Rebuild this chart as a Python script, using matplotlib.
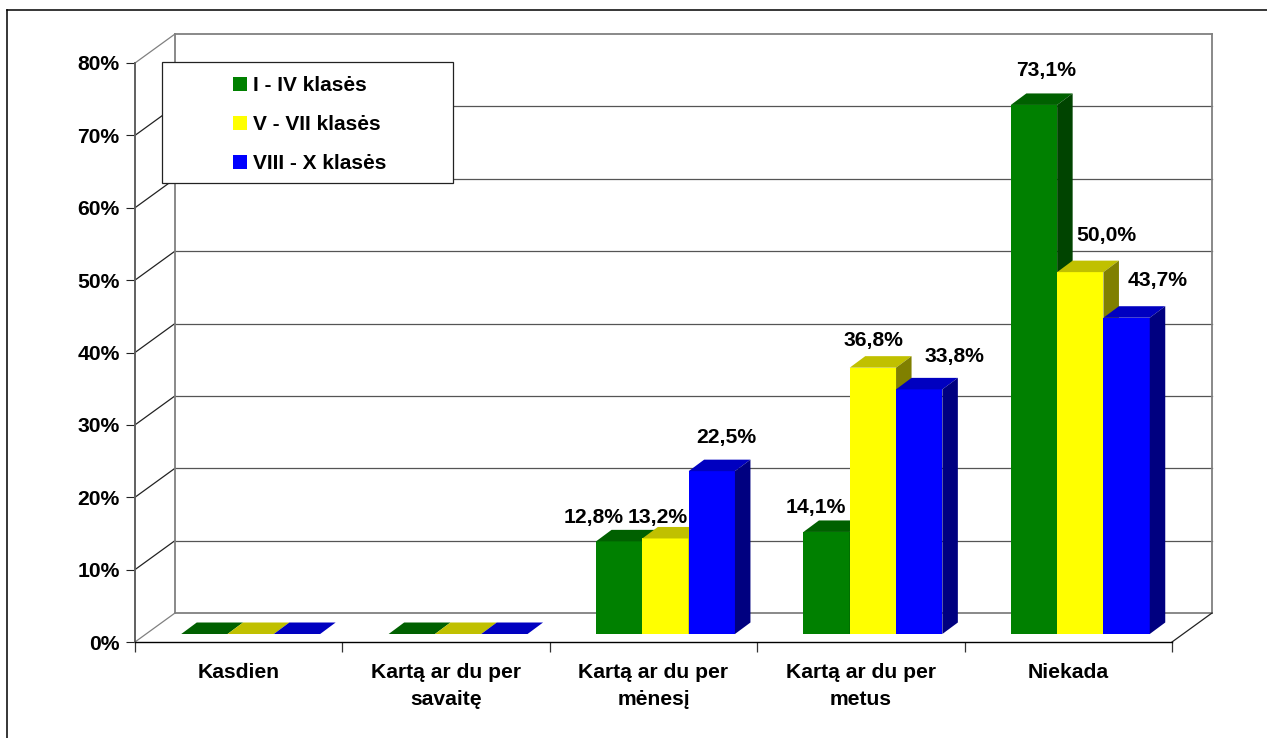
import matplotlib
matplotlib.use("Agg")
import matplotlib.pyplot as plt
from matplotlib.lines import Line2D
from matplotlib.patches import Patch, Polygon, Rectangle

FONT_SIZE = 15.2
plt.rcParams["font.family"] = ["Liberation Sans", "DejaVu Sans"]
plt.rcParams["font.weight"] = "bold"
plt.rcParams["font.size"] = FONT_SIZE

categories = ["Kasdien", "Kartą ar du per\nsavaitę", "Kartą ar du per\nmėnesį",
              "Kartą ar du per\nmetus", "Niekada"]
series_names = ["I - IV klasės", "V - VII klasės", "VIII - X klasės"]
grade_1_4 = [0, 0, 12.8, 14.1, 73.1]
grade_5_7 = [0, 0, 13.2, 36.8, 50.0]
grade_8_10 = [0, 0, 22.5, 33.8, 43.7]
y_ticks = [0, 10, 20, 30, 40, 50, 60, 70, 80]

front_colors = ["#008000", "#ffff00", "#0000ff"]
top_colors = ["#006000", "#c0c000", "#0000c0"]
side_colors = ["#004400", "#808000", "#000080"]

# hand placed data labels in the original, offset from bar top in pixels
label_offsets = {
    (2, 0): (-26, 24), (2, 1): (-8, 21), (2, 2): (15, 34),
    (3, 0): (-11, 24), (3, 1): (1, 27), (3, 2): (35, 33),
    (4, 0): (12, 34), (4, 1): (26, 37), (4, 2): (31, 37),
}

W, H = 1267, 738
LEFT, RIGHT, ZERO, TOP = 135, 1172, 642, 63
px_x = 5 / (RIGHT - LEFT)
px_y = 80 / (ZERO - TOP)

# depth of the fake 3d box
wall_dx, wall_dy = 40 * px_x, 29 * px_y
bar_dx, bar_dy = 12 * px_x, 8 * px_y
depth_dx, depth_dy = 15.5 * px_x, 11.5 * px_y
bar_width = 46.3 * px_x

fig = plt.figure(figsize=(W / 100, H / 100), dpi=100, facecolor="white")
ax = fig.add_axes([LEFT / W, 1 - ZERO / H, (RIGHT - LEFT) / W, (ZERO - TOP) / H])
ax.set_xlim(0, 5)
ax.set_ylim(0, 80)
ax.patch.set_alpha(0)

for s in ["top", "right"]:
    ax.spines[s].set_visible(False)
ax.spines["left"].set_color("#606060")
ax.spines["left"].set_linewidth(1.4)
ax.spines["bottom"].set_color("black")
ax.spines["bottom"].set_linewidth(1.0)

ax.set_yticks(y_ticks)
ax.set_yticklabels([f"{t}%" for t in y_ticks])
ax.tick_params(axis="y", length=6.5, width=0.8, pad=4.5, color="#222222")
ax.set_xticks(range(6))
ax.set_xticklabels([])
ax.set_xticks([i + 0.5 for i in range(5)], minor=True)
ax.set_xticklabels(categories, minor=True, linespacing=1.55)
ax.tick_params(axis="x", which="major", length=7.2, width=0.9, color="#333333")
ax.tick_params(axis="x", which="minor", length=0, pad=15)

# walls and gridlines
for t in y_ticks:
    edge = t in (0, 80)
    color = "#808080" if edge else "#555555"
    lw = 1.3 if edge else 0.9
    ax.plot([wall_dx, 5 + wall_dx], [t + wall_dy, t + wall_dy], color=color, lw=lw,
            clip_on=False, zorder=0.5)
    ax.plot([0, wall_dx], [t, t + wall_dy], color="#808080" if edge else "#222222",
            lw=0.9, clip_on=False, zorder=0.5)
ax.plot([wall_dx, wall_dx], [wall_dy, 80 + wall_dy], color="#808080", lw=1.3, clip_on=False, zorder=0.5)
ax.plot([5 + wall_dx, 5 + wall_dx], [wall_dy, 80 + wall_dy], color="#808080", lw=1.3, clip_on=False, zorder=0.5)
ax.plot([5, 5 + wall_dx], [0, wall_dy], color="#222222", lw=0.9, clip_on=False, zorder=0.5)

# bars, left to right so the nearer faces cover the sides
all_series = [grade_1_4, grade_5_7, grade_8_10]
for c in range(len(categories)):
    for s, values in enumerate(all_series):
        v = values[c]
        x0 = c + 0.5 + bar_dx + (s - 1.5) * bar_width
        x1 = x0 + bar_width
        y0 = bar_dy
        y1 = y0 + v
        ax.bar(x0, v, bar_width, bottom=y0, align="edge", color=front_colors[s],
               linewidth=0, zorder=2, clip_on=False)
        ax.add_patch(Polygon([(x0, y1), (x1, y1), (x1 + depth_dx, y1 + depth_dy), (x0 + depth_dx, y1 + depth_dy)],
                             closed=True, facecolor=top_colors[s], linewidth=0, zorder=2, clip_on=False))
        ax.add_patch(Polygon([(x1, y0), (x1 + depth_dx, y0 + depth_dy), (x1 + depth_dx, y1 + depth_dy), (x1, y1)],
                             closed=True, facecolor=side_colors[s], linewidth=0, zorder=2, clip_on=False))
        if (c, s) in label_offsets:
            ax.annotate(f"{v:.1f}".replace(".", ",") + "%", xy=((x0 + x1) / 2, y1),
                        xytext=label_offsets[(c, s)], textcoords="offset pixels",
                        ha="center", va="center", zorder=5)

# legend box, frame drawn separately because the entries sit off centre in it
fig.add_artist(Rectangle((162 / W, 1 - 183 / H), 291 / W, 121 / H, transform=fig.transFigure,
                         facecolor="white", edgecolor="#222222", linewidth=0.9, zorder=4))
handles = [Patch(facecolor=col, edgecolor="none") for col in front_colors]
leg = fig.legend(handles, series_names, loc="upper left", bbox_to_anchor=(233 / W, 1 - 76 / H),
                 frameon=False, borderpad=0, borderaxespad=0, handlelength=0.67, handleheight=0.67,
                 handletextpad=0.29, labelspacing=0.97, fontsize=15)
leg.set_zorder(5)

# outer frame, only top and left are inside the picture
fig.add_artist(Line2D([7 / W, 1], [1 - 10 / H, 1 - 10 / H], color="black", lw=1.1))
fig.add_artist(Line2D([7 / W, 7 / W], [0, 1 - 10 / H], color="black", lw=1.1))

fig.savefig("out.png", dpi=100)
